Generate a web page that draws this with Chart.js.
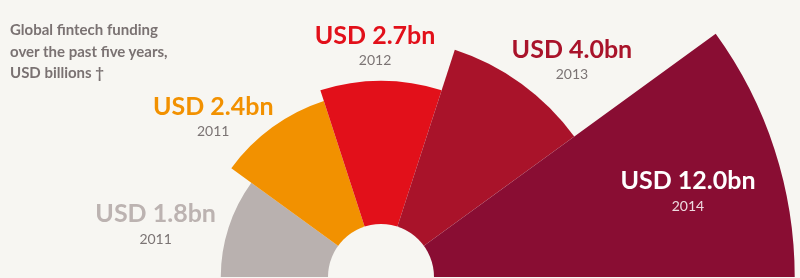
<!DOCTYPE html>
<html>
<head>
<meta charset="utf-8">
<script src="https://cdn.jsdelivr.net/npm/chart.js@4/dist/chart.umd.min.js"></script>
<style>
  html, body { margin: 0; padding: 0; }
  body {
    width: 800px; height: 278px; overflow: hidden; position: relative;
    background: #f7f6f2;
    font-family: 'Lato', 'Open Sans', sans-serif;
  }
  #title {
    position: absolute; left: 10px; top: 19px; z-index: 2;
    font-size: 15px; font-weight: 700; line-height: 21.5px; color: #7a7272;
  }
  #wrap { position: absolute; left: -37px; top: -141px; width: 836px; height: 836px; }
</style>
</head>
<body>
<div id="title">Global fintech funding<br>over the past five years,<br>USD billions †</div>
<div id="wrap"><canvas id="chart" width="836" height="836"></canvas></div>
<script>
// data
const years = ['2011', '2011', '2012', '2013', '2014'];
const funding = [1.8, 2.4, 2.7, 4.0, 12.0]; // USD billions
const wedgeColors = ['#b9b1af', '#f29100', '#e2101a', '#a9132a', '#890d33'];
const labelColors = ['#bcb3b1', '#f29100', '#e2101a', '#a9132a', '#ffffff'];
const yearColors = ['#7b7474', '#7b7474', '#7b7474', '#7b7474', 'rgba(255,255,255,0.85)'];

// where each text block sits: [angle deg (counter clockwise from right), distance px from centre]
const labelAnchors = [[164.4, 234], [134.6, 239], [91.4, 241.5], [50, 297], [17.3, 321.5]];

const bg = '#f7f6f2';

// wedge area is proportional to the value, so the radius goes with the square root
const radii = funding.map(v => Math.sqrt(v));

const holeAndLabels = {
  id: 'holeAndLabels',
  afterDatasetsDraw(chart) {
    const ctx = chart.ctx;
    const r = chart.scales.r;
    const cx = r.xCenter, cy = r.yCenter;

    // white hole in the middle
    ctx.save();
    ctx.beginPath();
    ctx.arc(cx, cy, 53, 0, Math.PI * 2);
    ctx.fillStyle = bg;
    ctx.fill();

    ctx.textAlign = 'center';
    ctx.textBaseline = 'middle';
    funding.forEach((v, i) => {
      const a = labelAnchors[i][0] * Math.PI / 180;
      const d = labelAnchors[i][1];
      const x = cx + Math.cos(a) * d;
      const y = cy - Math.sin(a) * d;
      ctx.font = '700 25px Lato, "Open Sans", sans-serif';
      ctx.fillStyle = labelColors[i];
      ctx.fillText('USD ' + v.toFixed(1) + 'bn', x, y);
      ctx.font = '400 14px Lato, "Open Sans", sans-serif';
      ctx.fillStyle = yearColors[i];
      ctx.fillText(years[i], x, y + 25);
    });
    ctx.restore();
  }
};

new Chart(document.getElementById('chart'), {
  type: 'polarArea',
  data: {
    labels: years,
    datasets: [{
      data: radii,
      backgroundColor: wedgeColors,
      borderWidth: 0,
      angle: 36 // five wedges over a half circle
    }]
  },
  options: {
    responsive: false,
    animation: false,
    layout: { padding: 0 },
    plugins: { legend: { display: false }, tooltip: { enabled: false } },
    scales: {
      r: {
        min: 0,
        max: 3.5,
        startAngle: 270,
        grid: { display: false },
        angleLines: { display: false },
        ticks: { display: false },
        pointLabels: { display: false }
      }
    }
  },
  plugins: [holeAndLabels]
});
</script>
</body>
</html>
